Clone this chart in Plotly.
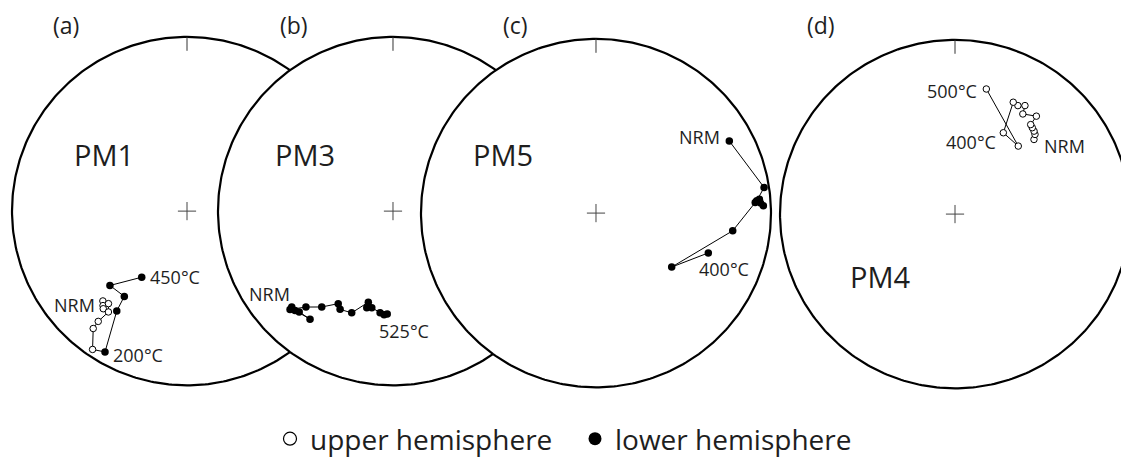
import numpy as np
import plotly.graph_objects as go

# demagnetisation paths: declination / inclination in degrees, NRM first
# negative inclination = upper hemisphere (open symbols)
pm1_dec = [223.0, 221.5, 220.5, 220.2, 217.8, 218.7, 218.5, 214.2, 210.1, 215.0, 216.2, 225.9, 214.3]
pm1_inc = [-30.2, -28.4, -27.2, -31.1, -27.6, -20.0, -15.0, -4.5, 7.3, 30.7, 39.2, 38.6, 52.1]
pm1_steps = {0: "NRM", 8: "200°C", 12: "450°C"}

pm3_dec = [226.4, 224.5, 217.4, 222.8, 226.2, 222.1, 216.5, 210.5, 208.2, 202.0,
           195.1, 195.1, 192.3, 187.2, 184.9, 183.2]
pm3_inc = [21.2, 21.2, 23.0, 22.2, 19.6, 26.7, 32.1, 38.3, 36.2, 37.1,
           45.0, 42.0, 42.6, 40.8, 40.1, 40.6]
pm3_steps = {0: "NRM", 15: "525°C"}

pm5_dec = [61.5, 81.3, 85.6, 85.1, 86.5, 87.5, 86.2, 97.4, 125.6, 109.6]
pm5_inc = [14.4, 3.2, 8.7, 7.0, 6.4, 4.8, 9.7, 22.3, 45.8, 32.4]
pm5_steps = {0: "NRM", 9: "400°C"}

pm4_dec = [46.5, 45.0, 43.5, 41.7, 40.1, 39.6, 34.0, 32.7, 30.0, 27.4, 30.6, 42.8, 14.0]
pm4_inc = [-37.8, -35.6, -34.7, -34.0, -33.3, -27.9, -31.3, -26.9, -28.9, -28.5, -44.9, -45.8, -26.9]
pm4_steps = {0: "NRM", 10: "400°C", 12: "500°C"}

FONT = "Open Sans"
INK = "#1e1e1e"

# net centres in units of the net radius (175 px)
nets = [
    dict(name="PM1", letter="(a)", dec=pm1_dec, inc=pm1_inc, steps=pm1_steps, c=(0.0, 0.0),
         label=(104, 155), letter_x=66,
         offs={0: ("right", -6, -4), 8: ("left", 6, -3), 12: ("left", 6, 0)}),
    dict(name="PM3", letter="(b)", dec=pm3_dec, inc=pm3_inc, steps=pm3_steps, c=(1.1771, 0.0),
         label=(305, 155), letter_x=294,
         offs={0: ("right", 0, 13), 15: ("left", -10, -17)}),
    dict(name="PM5", letter="(c)", dec=pm5_dec, inc=pm5_inc, steps=pm5_steps, c=(2.3371, -0.0114),
         label=(503, 155), letter_x=515,
         offs={0: ("right", -7, 4), 9: ("left", -11, -16)}),
    dict(name="PM4", letter="(d)", dec=pm4_dec, inc=pm4_inc, steps=pm4_steps, c=(4.3886, -0.0171),
         label=(880, 278), letter_x=821,
         offs={0: ("left", 8, -7), 10: ("right", -5, -9), 12: ("right", -7, -2)}),
]


def project(dec, inc, cx, cy):
    d = np.radians(np.asarray(dec))
    i = np.radians(np.abs(np.asarray(inc)))
    r = np.sqrt(2) * np.sin((np.pi / 2 - i) / 2)
    return cx + r * np.sin(d), cy + r * np.cos(d)


# the page body has an 8 px margin, so the figure starts at (8, 8) in the window
PAD = 8
W, H = 1129 - PAD, 464 - PAD


def paper(px, py):
    return (px - PAD) / W, 1 - (py - PAD) / H


fig = go.Figure()
annotations = []
t = np.linspace(0, 2 * np.pi, 361)

for net in nets:
    cx, cy = net["c"]
    fig.add_trace(go.Scatter(x=cx + np.sin(t), y=cy + np.cos(t), mode="lines", fill="toself",
                             fillcolor="white", line=dict(color="black", width=2.2),
                             hoverinfo="skip", showlegend=False))
    fig.add_trace(go.Scatter(x=[cx, cx], y=[cy + 1, cy + 0.92], mode="lines",
                             line=dict(color="#333", width=1), hoverinfo="skip", showlegend=False))
    fig.add_trace(go.Scatter(x=[cx], y=[cy], mode="markers",
                             marker=dict(symbol="cross-thin", size=13, line=dict(color="#444", width=1)),
                             hoverinfo="skip", showlegend=False))

    x, y = project(net["dec"], net["inc"], cx, cy)
    inc = np.asarray(net["inc"])
    fig.add_trace(go.Scatter(x=x, y=y, mode="lines", line=dict(color="black", width=1),
                             hoverinfo="skip", showlegend=False))
    up = inc < 0
    fig.add_trace(go.Scatter(x=x[up], y=y[up], mode="markers",
                             marker=dict(size=6.5, color="white", line=dict(color="black", width=1)),
                             showlegend=False))
    fig.add_trace(go.Scatter(x=x[~up], y=y[~up], mode="markers",
                             marker=dict(size=7.5, color="black", line=dict(color="black", width=0)),
                             showlegend=False))

    for idx, text in net["steps"].items():
        anchor, dx, dy = net["offs"][idx]
        annotations.append(dict(x=x[idx], y=y[idx], xref="x", yref="y", text=text, showarrow=False,
                                xanchor=anchor, yanchor="middle", xshift=dx, yshift=dy,
                                font=dict(family=FONT, size=18, color=INK)))

    lx, ly = paper(*net["label"])
    annotations.append(dict(x=lx, y=ly, xref="paper", yref="paper", text=net["name"],
                            xanchor="center", yanchor="middle", showarrow=False,
                            font=dict(family=FONT, size=29, color=INK)))
    tx, _ = paper(net["letter_x"], 0)
    annotations.append(dict(x=tx, y=1, xref="paper", yref="paper", text=net["letter"],
                            xanchor="center", yanchor="top", showarrow=False, borderpad=0,
                            font=dict(family=FONT, size=23, color=INK)))

# legend entries
fig.add_trace(go.Scatter(x=[None], y=[None], mode="markers", name="upper hemisphere",
                         marker=dict(size=13, color="white", line=dict(color="black", width=1.2))))
fig.add_trace(go.Scatter(x=[None], y=[None], mode="markers", name="lower hemisphere",
                         marker=dict(size=13, color="black")))

lgx, lgy = paper(575, 441)
fig.update_layout(
    width=W, height=H,
    margin=dict(l=0, r=0, t=0, b=0),
    paper_bgcolor="white", plot_bgcolor="white",
    xaxis=dict(range=[(PAD - 187) / 175, (1129 - 187) / 175], visible=False, fixedrange=True),
    yaxis=dict(range=[(212 - 464) / 175, (212 - PAD) / 175], visible=False, fixedrange=True),
    annotations=annotations,
    legend=dict(orientation="h", x=lgx, xanchor="center", y=lgy, yanchor="middle",
                entrywidth=260, font=dict(family=FONT, size=28, color=INK),
                bgcolor="rgba(0,0,0,0)"),
)

fig.write_html("out.html")
